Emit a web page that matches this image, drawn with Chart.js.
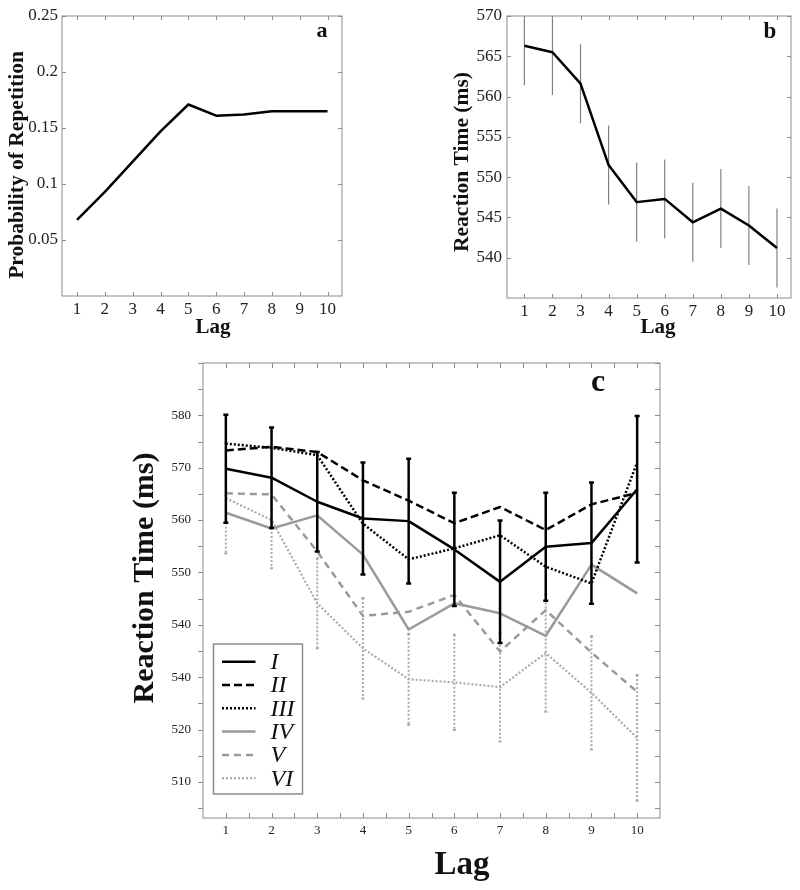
<!DOCTYPE html>
<html>
<head>
<meta charset="utf-8">
<script src="https://cdn.jsdelivr.net/npm/chart.js@4.4.0/dist/chart.umd.min.js"></script>
<style>
  html, body { margin: 0; padding: 0; background: #fff; }
  #wrap { position: relative; width: 800px; height: 890px; }
  canvas { position: absolute; }
</style>
</head>
<body>
<div id="wrap">
  <canvas id="chartA" width="400" height="340" style="left:0;top:0"></canvas>
  <canvas id="chartB" width="400" height="340" style="left:400px;top:0"></canvas>
  <canvas id="chartC" width="800" height="550" style="left:0;top:340px"></canvas>
</div>
<script>
const lags = [1, 2, 3, 4, 5, 6, 7, 8, 9, 10];

// panel a - probability of repetition
const repProb = [0.068, 0.093, 0.120, 0.147, 0.171, 0.161, 0.162, 0.165, 0.165, 0.165];
const probTicks = [0.05, 0.1, 0.15, 0.2, 0.25];
const probTickLabels = ['0.05', '0.1', '0.15', '0.2', '0.25'];

// panel b - mean reaction time
const rtMean = [566.3, 565.5, 561.6, 551.5, 546.9, 547.3, 544.4, 546.1, 544.0, 541.2];
const rtErr = [4.9, 5.3, 4.9, 4.9, 4.9, 4.9, 4.9, 4.9, 4.9, 4.9];
const rtTicks = [540, 545, 550, 555, 560, 565, 570];
const rtTickLabels = ['540', '545', '550', '555', '560', '565', '570'];

// panel c - reaction time by condition
const condNames = ['I', 'II', 'III', 'IV', 'V', 'VI'];
const rtI = [569.8, 568.1, 563.5, 560.3, 559.8, 554.4, 548.2, 554.9, 555.6, 565.9];
const rtIErr = [10.3, 9.6, 9.5, 10.7, 11.9, 10.8, 11.7, 10.3, 11.6, 14.0];
const rtII = [573.3, 574.0, 573.0, 567.6, 563.7, 559.4, 562.5, 558.1, 563.0, 565.2];
const rtIII = [574.6, 573.8, 572.4, 559.3, 552.5, 554.6, 557.1, 551.1, 547.9, 571.0];
const rtIV = [561.4, 558.4, 560.9, 553.4, 539.1, 544.1, 542.2, 537.9, 551.5, 546.0];
const rtV = [565.1, 564.9, 554.0, 541.7, 542.5, 545.7, 534.9, 542.8, 534.7, 527.2];
const rtVI = [564.2, 560.0, 544.1, 535.5, 529.6, 529.0, 528.1, 534.6, 527.0, 518.4];
const rtVIErr = [10.6, 9.2, 8.6, 9.6, 8.7, 9.1, 10.4, 11.2, 10.8, 12.0];
const cTicks = [510, 520, 530, 540, 550, 560, 570, 580];
const cTickLabels = ['510', '520', '540', '540', '550', '560', '570', '580'];

const pts = ys => lags.map((x, i) => ({ x: x, y: ys[i] }));

// frame with small tick marks on every side
function frame(cfg) {
  return {
    id: 'frame',
    afterDraw(chart) {
      const { ctx, chartArea: a, scales: { x, y } } = chart;
      const len = cfg.len;
      ctx.save();
      ctx.strokeStyle = '#8c8c8c';
      ctx.lineWidth = 1;
      ctx.strokeRect(a.left, a.top, a.right - a.left, a.bottom - a.top);
      ctx.beginPath();
      let xs = x.ticks.map(t => t.value);
      if (cfg.xMinor) xs = xs.concat(xs.map(v => v + cfg.xMinor).filter(v => v < x.max));
      xs.forEach(v => {
        const px = Math.round(x.getPixelForValue(v)) + 0.5;
        ctx.moveTo(px, a.bottom); ctx.lineTo(px, a.bottom - len);
        ctx.moveTo(px, a.top); ctx.lineTo(px, a.top + len);
      });
      let ys = y.ticks.map(t => t.value);
      if (cfg.yMinor) {
        ys = [];
        for (let v = Math.ceil(y.min / cfg.yMinor) * cfg.yMinor; v <= y.max; v += cfg.yMinor) ys.push(v);
      }
      ys.forEach(v => {
        const py = Math.round(y.getPixelForValue(v)) + 0.5;
        if (cfg.leftOut) { ctx.moveTo(a.left - len, py); ctx.lineTo(a.left, py); }
        else { ctx.moveTo(a.left, py); ctx.lineTo(a.left + len, py); }
        ctx.moveTo(a.right, py); ctx.lineTo(a.right - len, py);
      });
      ctx.stroke();
      ctx.restore();
    }
  };
}

// axis titles and panel letters
function captions(items) {
  return {
    id: 'captions',
    afterDraw(chart) {
      const ctx = chart.ctx;
      items.forEach(t => {
        ctx.save();
        ctx.font = t.font;
        ctx.fillStyle = '#111';
        ctx.textAlign = 'center';
        ctx.textBaseline = 'middle';
        ctx.translate(t.x, t.y);
        if (t.rot) ctx.rotate(t.rot);
        ctx.fillText(t.text, 0, 0);
        ctx.restore();
      });
    }
  };
}

function drawErrors(chart, index) {
  const ds = chart.data.datasets[index];
  if (!ds.errors) return;
  const { ctx, chartArea: a, scales: { y } } = chart;
  const meta = chart.getDatasetMeta(index);
  ctx.save();
  ctx.beginPath();
  ctx.rect(a.left, a.top, a.right - a.left, a.bottom - a.top);
  ctx.clip();
  ctx.strokeStyle = ds.errColor;
  ctx.lineWidth = ds.errWidth;
  meta.data.forEach((pt, j) => {
    const v = ds.data[j].y, e = ds.errors[j];
    const top = y.getPixelForValue(v + e), bot = y.getPixelForValue(v - e);
    ctx.setLineDash(ds.errDash || []);
    ctx.beginPath();
    ctx.moveTo(pt.x, top); ctx.lineTo(pt.x, bot);
    ctx.stroke();
    if (ds.errCap) {
      ctx.setLineDash([]);
      ctx.beginPath();
      ctx.moveTo(pt.x - ds.errCap, top); ctx.lineTo(pt.x + ds.errCap, top);
      ctx.moveTo(pt.x - ds.errCap, bot); ctx.lineTo(pt.x + ds.errCap, bot);
      ctx.stroke();
    }
  });
  ctx.restore();
}

const errorBars = {
  id: 'errorBars',
  beforeDatasetDraw(chart, args) {
    if (chart.data.datasets[args.index].errBehind) drawErrors(chart, args.index);
  },
  afterDatasetDraw(chart, args) {
    if (!chart.data.datasets[args.index].errBehind) drawErrors(chart, args.index);
  }
};

const boxLegend = {
  id: 'boxLegend',
  afterDraw(chart) {
    const { ctx, chartArea: a } = chart;
    const bx = a.left + 10.5, by = a.top + 281, bw = 89, bh = 150;
    ctx.save();
    ctx.fillStyle = '#fff';
    ctx.fillRect(bx, by, bw, bh);
    ctx.strokeStyle = '#8c8c8c';
    ctx.lineWidth = 1.5;
    ctx.strokeRect(bx, by, bw, bh);
    chart.data.datasets.forEach((ds, i) => {
      const ry = by + 17.7 + i * 23.3;
      ctx.strokeStyle = ds.borderColor;
      ctx.lineWidth = ds.borderWidth;
      ctx.setLineDash(ds.borderDash || []);
      ctx.beginPath();
      ctx.moveTo(bx + 8.5, ry); ctx.lineTo(bx + 42, ry);
      ctx.stroke();
      ctx.setLineDash([]);
      ctx.fillStyle = '#111';
      ctx.font = 'italic 24px "Liberation Serif"';
      ctx.textBaseline = 'middle';
      ctx.fillText(ds.label, bx + 57, ry + 1);
    });
    ctx.restore();
  }
};

function panelOptions(p) {
  return {
    responsive: false,
    animation: false,
    events: [],
    layout: { padding: { left: 0, top: p.area.top, right: p.w - p.area.right, bottom: 0 } },
    plugins: { legend: { display: false }, tooltip: { enabled: false } },
    elements: { point: { radius: 0 }, line: { tension: 0, borderJoinStyle: 'round' } },
    scales: {
      x: {
        type: 'linear',
        min: p.xMin,
        max: p.xMax,
        grid: { display: false, drawTicks: false },
        border: { display: false },
        afterBuildTicks: s => { s.ticks = lags.map(v => ({ value: v })); },
        afterFit: s => { s.height = p.h - p.area.bottom; },
        ticks: {
          autoSkip: false, maxRotation: 0, padding: p.xPad, color: '#222',
          font: p.tickFont, callback: v => String(v)
        }
      },
      y: {
        type: 'linear',
        min: p.yMin,
        max: p.yMax,
        grid: { display: false, drawTicks: false },
        border: { display: false },
        afterBuildTicks: s => { s.ticks = p.yTicks.map(v => ({ value: v })); },
        afterFit: s => { s.width = p.area.left; },
        ticks: {
          autoSkip: false, padding: p.yPad, color: '#222',
          font: p.tickFont, callback: (v, i) => p.yLabels[i]
        }
      }
    }
  };
}

const bookFont = { family: 'Liberation Serif', size: 17 };
const smallFont = { family: 'Liberation Serif', size: 13 };

new Chart(document.getElementById('chartA'), {
  type: 'line',
  data: {
    datasets: [{
      data: pts(repProb),
      borderColor: '#000',
      borderWidth: 2.5
    }]
  },
  options: panelOptions({
    w: 400, h: 340, area: { left: 62, top: 16, right: 342, bottom: 296 },
    xMin: 0.46, xMax: 10.52, yMin: 0, yMax: 0.25,
    yTicks: probTicks, yLabels: probTickLabels,
    tickFont: bookFont, xPad: 3, yPad: 4
  }),
  plugins: [frame({ len: 4 }), captions([
    { text: 'Probability of Repetition', x: 17, y: 165, rot: -Math.PI / 2, font: 'bold 21.5px "Liberation Serif"' },
    { text: 'Lag', x: 213, y: 328, font: 'bold 21px "Liberation Serif"' },
    { text: 'a', x: 322, y: 31, font: 'bold 22px "Liberation Serif"' }
  ])]
});

new Chart(document.getElementById('chartB'), {
  type: 'line',
  data: {
    datasets: [{
      data: pts(rtMean),
      borderColor: '#000',
      borderWidth: 2.5,
      errors: rtErr,
      errColor: '#808080',
      errWidth: 1.2,
      errBehind: true
    }]
  },
  options: panelOptions({
    w: 400, h: 340, area: { left: 107, top: 16, right: 391, bottom: 298 },
    xMin: 0.38, xMax: 10.5, yMin: 535, yMax: 570,
    yTicks: rtTicks, yLabels: rtTickLabels,
    tickFont: bookFont, xPad: 3, yPad: 5
  }),
  plugins: [errorBars, frame({ len: 4 }), captions([
    { text: 'Reaction Time (ms)', x: 62, y: 162, rot: -Math.PI / 2, font: 'bold 21.5px "Liberation Serif"' },
    { text: 'Lag', x: 258, y: 328, font: 'bold 21px "Liberation Serif"' },
    { text: 'b', x: 370, y: 32, font: 'bold 23px "Liberation Serif"' }
  ])]
});

const grey = '#9a9a9a';
new Chart(document.getElementById('chartC'), {
  type: 'line',
  data: {
    datasets: [
      { label: condNames[0], data: pts(rtI), borderColor: '#000', borderWidth: 2.5,
        errors: rtIErr, errColor: '#000', errWidth: 2.5, errCap: 2.5 },
      { label: condNames[1], data: pts(rtII), borderColor: '#000', borderWidth: 2.5, borderDash: [8, 4] },
      { label: condNames[2], data: pts(rtIII), borderColor: '#000', borderWidth: 2.5, borderDash: [2, 2] },
      { label: condNames[3], data: pts(rtIV), borderColor: grey, borderWidth: 2.5 },
      { label: condNames[4], data: pts(rtV), borderColor: grey, borderWidth: 2.5, borderDash: [7, 5] },
      { label: condNames[5], data: pts(rtVI), borderColor: '#aaaaaa', borderWidth: 2.2, borderDash: [2, 2],
        errors: rtVIErr, errColor: '#aaaaaa', errWidth: 2, errDash: [2, 2], errCap: 1.5 }
    ]
  },
  options: panelOptions({
    w: 800, h: 550, area: { left: 203, top: 23, right: 660, bottom: 478 },
    xMin: 0.5, xMax: 10.5, yMin: 503.1, yMax: 590,
    yTicks: cTicks, yLabels: cTickLabels,
    tickFont: smallFont, xPad: 5, yPad: 12
  }),
  plugins: [errorBars, frame({ len: 5, xMinor: 0.5, yMinor: 5, leftOut: true }), boxLegend, captions([
    { text: 'Reaction Time (ms)', x: 145, y: 238, rot: -Math.PI / 2, font: 'bold 30px "Liberation Serif"' },
    { text: 'Lag', x: 462, y: 525, font: 'bold 33px "Liberation Serif"' },
    { text: 'c', x: 598, y: 43, font: 'bold 32px "Liberation Serif"' }
  ])]
});
</script>
</body>
</html>
